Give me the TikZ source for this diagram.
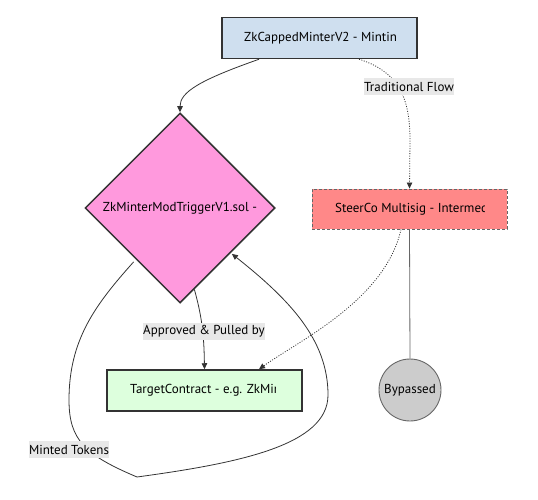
\documentclass[tikz,border=0pt]{standalone}
\usepackage{fontspec}
\setmainfont{PT Sans}
\usetikzlibrary{shapes.geometric,arrows.meta,calc}
\definecolor{edgec}{HTML}{333333}
\definecolor{topfill}{HTML}{CFDFEF}
\definecolor{diafill}{HTML}{FF99DD}
\definecolor{steerfill}{HTML}{FF8888}
\definecolor{tgtfill}{HTML}{DDFFDD}
\definecolor{bypfill}{HTML}{CCCCCC}
\definecolor{lblfill}{HTML}{E8E8E8}
\definecolor{dashc}{HTML}{666666}
\tikzset{
  txt/.style={font=\fontsize{13}{15}\selectfont, inner sep=0pt, text=black},
  boxnode/.style={draw=edgec, line width=1.5pt, minimum width=195pt, minimum height=41pt, inner sep=0pt},
  lbl/.style={fill=lblfill, inner sep=0pt, minimum height=17pt, font=\fontsize{13}{15}\selectfont},
  edge/.style={draw=edgec, line width=0.8pt},
  tip/.style={-{Triangle[length=6pt,width=5.5pt]}},
  dotedge/.style={draw=edgec, line width=0.8pt, dash pattern=on 1pt off 1.5pt},
}
\begin{document}
\begin{tikzpicture}[x=1pt,y=-1pt]
\useasboundingbox (0,0) rectangle (538,500);
% nodes
\node[boxnode, fill=topfill] (top) at (319.5,38) {};
\node[diamond, aspect=1, draw=edgec, line width=1.5pt, fill=diafill, minimum width=190pt, minimum height=190pt, inner sep=0pt] (dia) at (180,208) {};
\node[boxnode, fill=steerfill, draw=dashc, line width=0.9pt, dash pattern=on 3pt off 2pt, minimum height=40pt] (steer) at (409.5,209) {};
\node[boxnode, fill=tgtfill] (tgt) at (204.5,390.5) {};
\node[circle, draw=dashc, line width=0.9pt, fill=bypfill, minimum size=62pt, inner sep=0pt, txt] (byp) at (410,390) {Bypassed};
% node texts (clipped as in the picture)
\begin{scope}
  \clip (244,25) rectangle (395,52);
  \node[txt, anchor=west] (toptxt) at (244,38) {ZkCappedMinterV2 - Minting};
\end{scope}
\node[txt] (diatxt) at (180,208) {ZkMinterModTriggerV1.sol -};
\begin{scope}
  \clip (335,196) rectangle (484,222);
  \node[txt, anchor=west] (steertxt) at (335,209) {SteerCo Multisig - Intermediary};
\end{scope}
\begin{scope}
  \clip (130,378) rectangle (275.5,404);
  \node[txt, anchor=west] (tgttxt) at (130,390.5) {TargetContract - e.g. ZkMinter};
\end{scope}
% connectors
\draw[edge, tip] ([xshift=-60.5pt]top.south) .. controls (200,80) and (180,92) .. (dia.north);
\draw[dotedge, tip] ([xshift=39.5pt]top.south) .. controls (400,72) and (410,100) .. (410,140) -- (steer.north);
\node[lbl, minimum width=90pt] (lflow) at (409,86.5) {Traditional Flow};
\draw[edge, draw=dashc] (steer.south) -- (byp.north);
\draw[dotedge, tip] ([xshift=-8.5pt]steer.south) .. controls (385,300) and (300,340) .. ([xshift=54.5pt]tgt.north);
\draw[edge, tip] (dia.-80) .. controls (203,320) and (204,340) .. (tgt.north);
\node[lbl, minimum width=120pt] (lappr) at (204,331.5) {Approved \& Pulled by};
\coordinate (loopbot) at (137,477);
\draw[edge, tip] ([shift={(1.5,6)}]dia.south west) .. controls (95,305) and (69,340) .. (69,400) .. controls (69,440) and (85,455) .. (loopbot) .. controls (240,463) and (328,445) .. (328,395) .. controls (328,340) and (290,300) .. ([shift={(4,-2)}]dia.south east);
\node[lbl, minimum width=78pt] (lmint) at (69,449.5) {Minted Tokens};
\end{tikzpicture}
\end{document}
